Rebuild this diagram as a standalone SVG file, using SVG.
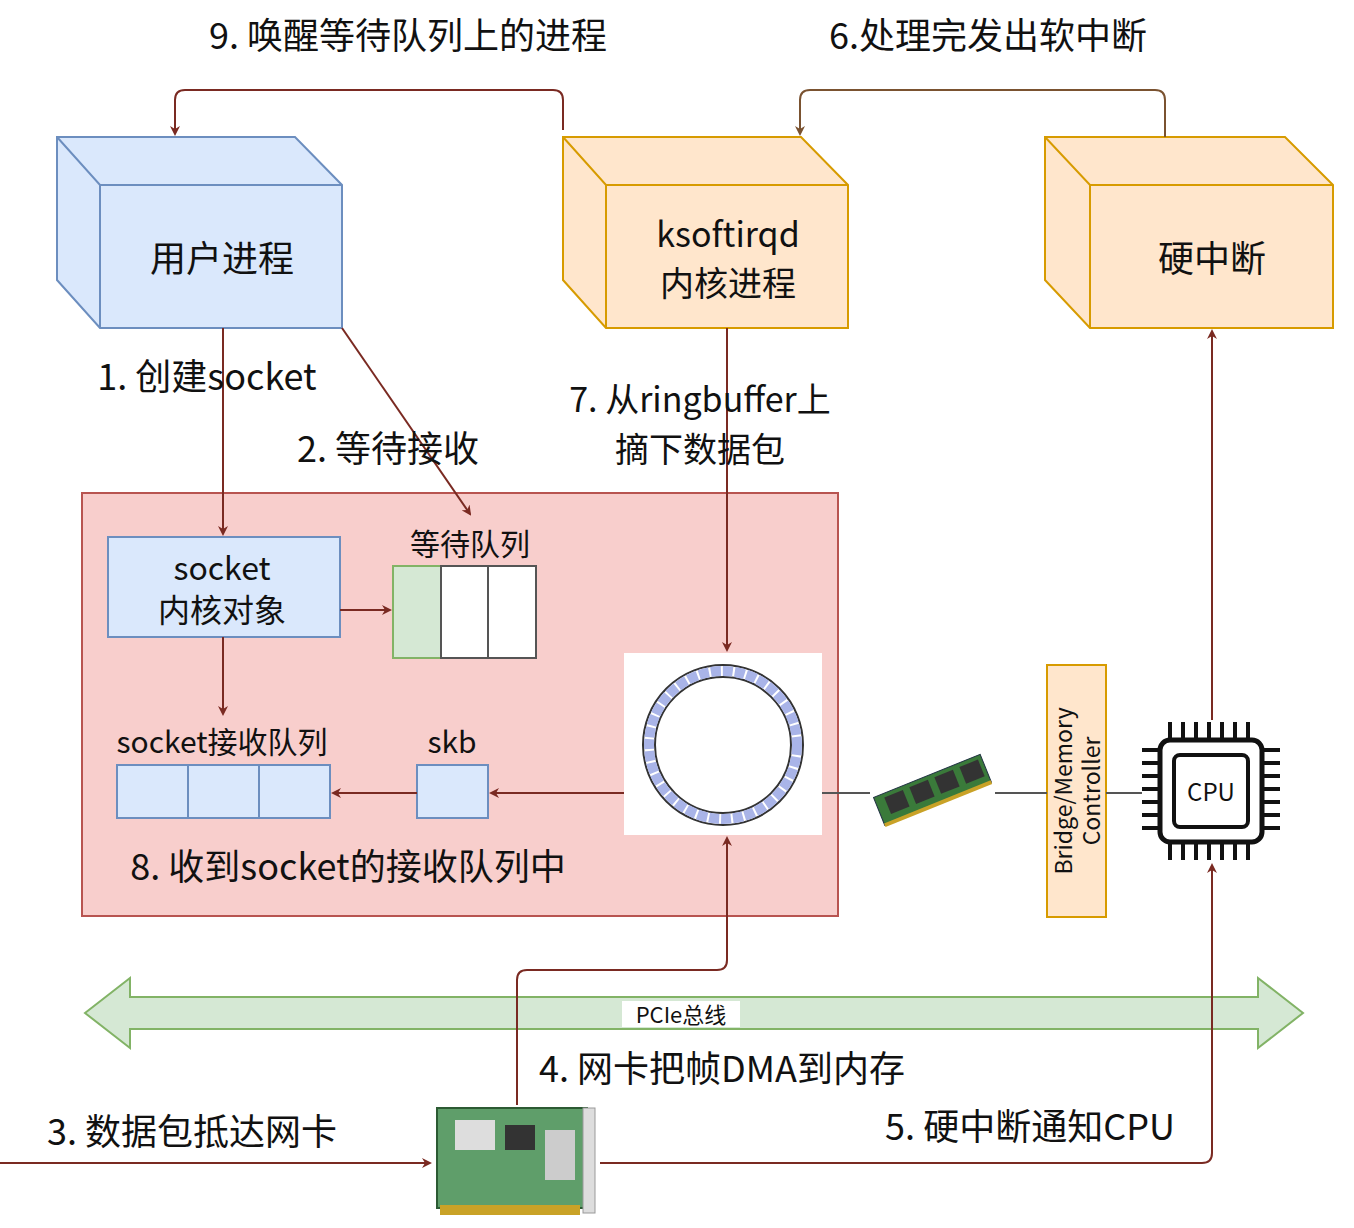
<svg xmlns="http://www.w3.org/2000/svg" width="1354" height="1228" viewBox="0 0 1354 1228">
<style>
text{font-family:"Noto Sans CJK SC","Noto Sans",sans-serif;fill:#111}
.t{font-size:36px}
.m{font-size:32px}
.c{stroke:#7a2a22;stroke-width:2;fill:none}
.b{stroke:#7a5230;stroke-width:2;fill:none}
.g{stroke:#555;stroke-width:2;fill:none}
.blue{fill:#dae8fc;stroke:#6c8ebf;stroke-width:2}
.org{fill:#ffe6cc;stroke:#d79b00;stroke-width:2}
</style>
<defs>
<marker id="a" markerWidth="10" markerHeight="10" refX="8" refY="5" orient="auto" markerUnits="userSpaceOnUse" viewBox="0 0 10 10"><path d="M0,0L10,5L0,10L3,5z" fill="#7a2a22"/></marker>
<marker id="ab" markerWidth="10" markerHeight="10" refX="8" refY="5" orient="auto" markerUnits="userSpaceOnUse" viewBox="0 0 10 10"><path d="M0,0L10,5L0,10L3,5z" fill="#7a5230"/></marker>
</defs>
<rect width="1354" height="1228" fill="#fff"/>
<g id="region"><rect x="82" y="493" width="756" height="423" fill="#f8cecc" stroke="#b85450" stroke-width="2"/></g>
<g id="user">
<path d="M57,137H295L342,185V328H100L57,280Z" class="blue"/>
<path d="M57,137L100,185H342M100,185V328" fill="none" stroke="#6c8ebf" stroke-width="2"/>
<text x="222" y="272" class="t" text-anchor="middle">用户进程</text></g>
<g id="ksoft">
<path d="M563,137H801L848,185V328H606L563,280Z" class="org"/>
<path d="M563,137L606,185H848M606,185V328" fill="none" stroke="#d79b00" stroke-width="2"/>
<text x="728" y="247" font-size="34" text-anchor="middle">ksoftirqd</text>
<text x="728" y="296" font-size="34" text-anchor="middle">内核进程</text></g>
<g id="hard">
<path d="M1045,137H1285L1333,185V328H1090L1045,280Z" class="org"/>
<path d="M1045,137L1090,185H1333M1090,185V328" fill="none" stroke="#d79b00" stroke-width="2"/>
<text x="1212" y="272" class="t" text-anchor="middle">硬中断</text></g>
<g id="sock"><rect x="108" y="537" width="232" height="100" class="blue"/>
<text x="222" y="580" class="m" text-anchor="middle">socket</text>
<text x="222" y="622" class="m" text-anchor="middle">内核对象</text></g>
<g id="waitq"><text x="470" y="555" font-size="30" text-anchor="middle">等待队列</text>
<rect x="393" y="566" width="48" height="92" fill="#d5e8d4" stroke="#82b366" stroke-width="2"/>
<rect x="441" y="566" width="47" height="92" fill="#fff" stroke="#555" stroke-width="2"/>
<rect x="488" y="566" width="48" height="92" fill="#fff" stroke="#555" stroke-width="2"/></g>
<g id="recvq"><text x="222" y="753" font-size="30" text-anchor="middle">socket接收队列</text>
<rect x="117" y="765" width="71" height="53" class="blue"/><rect x="188" y="765" width="71" height="53" class="blue"/><rect x="259" y="765" width="71" height="53" class="blue"/></g>
<g id="skb"><text x="452" y="753" font-size="30" text-anchor="middle">skb</text><rect x="417" y="765" width="71" height="53" class="blue"/></g>
<g id="ring"><rect x="624" y="653" width="198" height="182" fill="#fff"/>
<circle cx="723" cy="745" r="80" fill="none" stroke="#333" stroke-width="2"/>
<circle cx="723" cy="745" r="68" fill="none" stroke="#333" stroke-width="2"/>
<circle cx="723" cy="745" r="74" fill="none" stroke="#a9b4e8" stroke-width="10" stroke-dasharray="10 2"/></g>
<g id="ram"><g transform="rotate(-22 932 790)"><rect x="875" y="775" width="115" height="30" fill="#3a7a3a" stroke="#234" stroke-width="1"/>
<rect x="885" y="779" width="20" height="18" fill="#333"/><rect x="912" y="779" width="20" height="18" fill="#333"/><rect x="939" y="779" width="20" height="18" fill="#333"/><rect x="966" y="779" width="20" height="18" fill="#333"/>
<rect x="875" y="803" width="115" height="4" fill="#c9a227"/></g></g>
<g id="bridge"><rect x="1047" y="665" width="59" height="252" class="org"/>
<text transform="translate(1072 791) rotate(-90)" font-size="23" text-anchor="middle" font-family="Liberation Sans,sans-serif">Bridge/Memory</text>
<text transform="translate(1100 791) rotate(-90)" font-size="23" text-anchor="middle" font-family="Liberation Sans,sans-serif">Controller</text></g>
<g id="cpu"><rect x="1160" y="740" width="102" height="102" rx="10" fill="#fff" stroke="#111" stroke-width="5"/>
<rect x="1174" y="755" width="74" height="72" rx="6" fill="#fff" stroke="#111" stroke-width="4"/>
<path d="M1170,722V740M1183,722V740M1196,722V740M1209,722V740M1222,722V740M1235,722V740M1248,722V740M1170,842V860M1183,842V860M1196,842V860M1209,842V860M1222,842V860M1235,842V860M1248,842V860M1142,750H1160M1142,763H1160M1142,776H1160M1142,789H1160M1142,802H1160M1142,815H1160M1142,828H1160M1262,750H1280M1262,763H1280M1262,776H1280M1262,789H1280M1262,802H1280M1262,815H1280M1262,828H1280" stroke="#111" stroke-width="4"/>
<text x="1211" y="801" font-size="24" text-anchor="middle" font-family="Liberation Sans,sans-serif">CPU</text></g>
<g id="pcie"><path d="M85,1013L130,978V997H1258V978L1303,1013L1258,1048V1029H130V1048Z" fill="#d5e8d4" stroke="#82b366" stroke-width="2"/>
<rect x="622" y="1001" width="118" height="26" fill="#fff"/>
<text x="681" y="1023" font-size="22" text-anchor="middle">PCIe总线</text></g>
<g id="nic"><rect x="437" y="1108" width="150" height="100" fill="#5f9e6a" stroke="#2c5a33" stroke-width="2"/>
<rect x="440" y="1205" width="140" height="10" fill="#c9a227"/>
<rect x="455" y="1120" width="40" height="30" fill="#ddd"/><rect x="505" y="1125" width="30" height="25" fill="#333"/><rect x="545" y="1130" width="30" height="50" fill="#ccc"/>
<rect x="583" y="1108" width="12" height="105" fill="#ddd" stroke="#999"/></g>
<g id="connectors">
<path class="c" marker-end="url(#a)" d="M563,130V100Q563,90 553,90H185Q175,90 175,100V134"/>
<path class="b" marker-end="url(#ab)" d="M1165,137V100Q1165,90 1155,90H810Q800,90 800,100V134"/>
<path class="c" marker-end="url(#a)" d="M223,328V534"/>
<path class="c" marker-end="url(#a)" d="M342,328L470,514"/>
<path class="c" marker-end="url(#a)" d="M727,328V650"/>
<path class="c" marker-end="url(#a)" d="M340,610H390"/>
<path class="c" marker-end="url(#a)" d="M223,637V714"/>
<path class="c" marker-end="url(#a)" d="M624,793H491"/>
<path class="c" marker-end="url(#a)" d="M417,793H333"/>
<path class="g" d="M822,793H870M995,793H1047M1106,793H1142"/>
<path class="c" marker-end="url(#a)" d="M1212,720V331"/>
<path class="c" marker-end="url(#a)" d="M517,1105V980Q517,970 527,970H717Q727,970 727,960V838"/>
<path class="c" marker-end="url(#a)" d="M600,1163H1202Q1212,1163 1212,1153V865"/>
<path class="c" marker-end="url(#a)" d="M0,1163H430"/>
</g>
<g id="labels">
<text x="408" y="49" class="t" text-anchor="middle">9. 唤醒等待队列上的进程</text>
<text x="988" y="49" class="t" text-anchor="middle">6.处理完发出软中断</text>
<text x="207" y="390" class="t" text-anchor="middle">1. 创建socket</text>
<text x="388" y="462" class="t" text-anchor="middle">2. 等待接收</text>
<text x="700" y="412" font-size="34" text-anchor="middle">7. 从ringbuffer上</text>
<text x="700" y="462" font-size="34" text-anchor="middle">摘下数据包</text>
<text x="348" y="880" class="t" text-anchor="middle">8. 收到socket的接收队列中</text>
<text x="722" y="1082" class="t" text-anchor="middle">4. 网卡把帧DMA到内存</text>
<text x="192" y="1145" class="t" text-anchor="middle">3. 数据包抵达网卡</text>
<text x="1030" y="1140" class="t" text-anchor="middle">5. 硬中断通知CPU</text>
</g>
</svg>
